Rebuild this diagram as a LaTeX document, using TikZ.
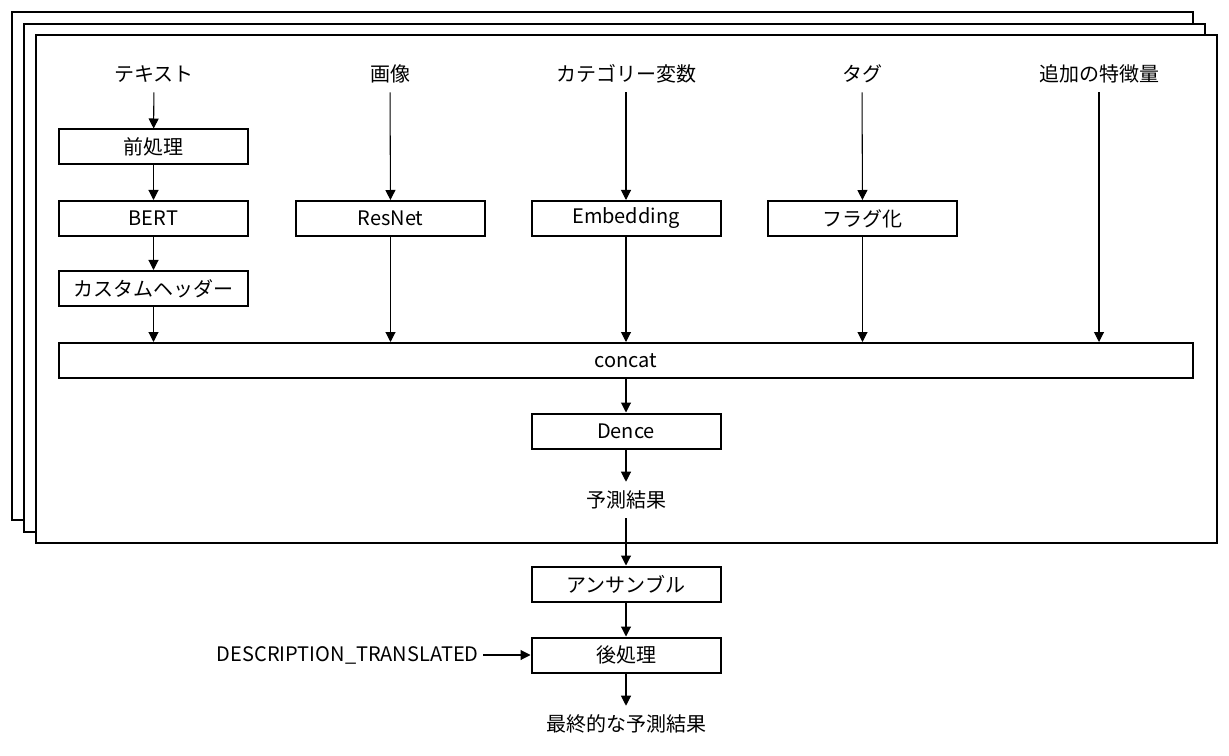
\documentclass[tikz,border=0pt]{standalone}
\usepackage{fontspec}
\newfontfamily\jpfont{Noto Sans CJK JP}
\usetikzlibrary{arrows.meta}

\tikzset{
  stack/.style={draw, fill=white, line width=1.5pt},
  block/.style={draw, line width=1.5pt, minimum width=141.75pt, minimum height=26.25pt, inner sep=0pt},
  label/.style={minimum height=27pt, inner sep=0pt},
  flow/.style={-{Triangle[width=7.5pt,length=7.5pt]}, line width=0.8pt}
}

\begin{document}
\begin{tikzpicture}[x=0.75pt,y=0.75pt,yscale=-1,xscale=1,font=\jpfont\fontsize{15pt}{18pt}\selectfont]
\useasboundingbox (0,0) rectangle (1229,756);

%Stacked frames
\draw [stack] (12,12) rectangle (1193,520);
\draw [stack] (24,24) rectangle (1205,532);
\draw [stack] (36,35) rectangle (1217,543);

% Text Node
\node [label] (text) at (154,74) {テキスト};
\node [label] (image) at (390,74) {画像};
\node [label] (cat) at (626,74) {カテゴリー変数};
\node [label] (tag) at (862,74) {タグ};
\node [label] (extra) at (1099,74) {追加の特徴量};

%Blocks
\node [block] (pre) at (153.5,147) {前処理};
\node [block] (bert) at (153.5,218.5) {BERT};
\node [block] (head) at (153.5,288.5) {カスタムヘッダー};
\node [block] (resnet) at (390.5,218.5) {ResNet};
\node [block] (embed) at (626,218.5) {Embedding};
\node [block] (flag) at (862.5,218.5) {フラグ化};
\node [block, minimum width=850.5pt] (concat) at (626,360.5) {concat};
\node [block] (dence) at (626,431) {Dence};
\node [label] (pred) at (626,500) {予測結果};
\node [block] (ens) at (626,584) {アンサンブル};
\node [block] (post) at (626,655) {後処理};
\node [label] (final) at (626,724) {最終的な予測結果};
\node [label, inner xsep=3pt, anchor=east] (desc) at (483,655) {DESCRIPTION\_TRANSLATED};

%Arrows
\draw [flow] (text) -- (pre);
\draw [flow] (pre) -- (bert);
\draw [flow] (bert) -- (head);
\draw [flow] (image) -- (resnet);
\draw [flow] (cat) -- (embed);
\draw [flow] (tag) -- (flag);
\draw [flow] (head.south) -- (head.south |- concat.north);
\draw [flow] (resnet.south) -- (resnet.south |- concat.north);
\draw [flow] (embed.south) -- (embed.south |- concat.north);
\draw [flow] (flag.south) -- (flag.south |- concat.north);
\draw [flow] (extra.south) -- (extra.south |- concat.north);
\draw [flow] (concat.south -| dence.north) -- (dence.north);
\draw [flow] (dence) -- (pred);
\draw [flow] (pred) -- (ens);
\draw [flow] (ens) -- (post);
\draw [flow] (post) -- (final);
\draw [flow] (desc) -- (post);

\end{tikzpicture}
\end{document}
